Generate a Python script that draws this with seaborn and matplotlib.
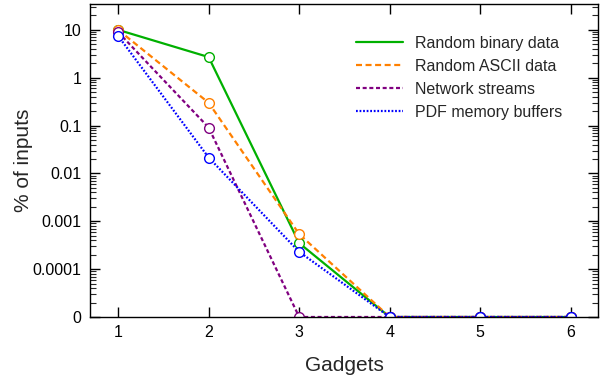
import numpy as np
import pandas as pd
import matplotlib
matplotlib.use("Agg")
import matplotlib.pyplot as plt
from matplotlib.lines import Line2D
from matplotlib.ticker import FixedLocator, FixedFormatter
import seaborn as sns

gadgets = [1, 2, 3, 4, 5, 6]
series_names = ["Random binary data", "Random ASCII data", "Network streams", "PDF memory buffers"]
random_binary = [10.0, 2.7, 0.00035, 0, 0, 0]
random_ascii = [10.0, 0.30, 0.00054, 0, 0, 0]
network_streams = [9.0, 0.091, 0, 0, 0, 0]
pdf_buffers = [7.5, 0.0215, 0.00023, 0, 0, 0]
y_tick_values = [0, 0.0001, 0.001, 0.01, 0.1, 1, 10]
y_tick_labels = ["0", "0.0001", "0.001", "0.01", "0.1", "1", "10"]

colors = ["#00b000", "#ff8000", "#800080", "#0000ff"]
styles = ["-", (0, (2.7, 1.6)), (0, (1.8, 1.2)), (0, (0.8, 0.8))]
values = [random_binary, random_ascii, network_streams, pdf_buffers]

sns.set_theme(style="ticks")
plt.rcParams['font.family'] = ['Liberation Sans', 'DejaVu Sans']

fig = plt.figure(figsize=(6.05, 3.75), dpi=100)
ax = fig.add_axes([90/605, 1-317/375, (598-90)/605, (317-4)/375])

FLOOR = 1e-5
ax.set_yscale("function", functions=(lambda y: np.log10(np.clip(y, FLOOR, None)),
                                       lambda y: 10.0**y))

for name, vals, c, ls in zip(series_names, values, colors, styles):
    df = pd.DataFrame({"Gadgets": gadgets, "pct": vals})
    sns.lineplot(data=df, x="Gadgets", y="pct", ax=ax, color=c, linestyle=ls,
                 linewidth=1.6, marker="o", markersize=7, markerfacecolor="white",
                 markeredgecolor=c, markeredgewidth=1.0, label=None, legend=False)

ax.set_xlim(0.69, 6.3)
ax.set_ylim(FLOOR, 10**1.54)
ax.yaxis.set_major_locator(FixedLocator(y_tick_values))
ax.yaxis.set_major_formatter(FixedFormatter(y_tick_labels))
minors = [k * 10.0**d for d in range(-5, 2) for k in range(2, 10)]
ax.yaxis.set_minor_locator(FixedLocator(minors))
ax.set_xticks(gadgets)

ax.tick_params(axis="both", which="major", direction="in", length=7, width=1,
               labelsize=11.5, top=True, right=True, colors="black", pad=6)
ax.tick_params(axis="y", which="minor", direction="in", length=4, width=0.8, right=True)
ax.tick_params(axis="x", which="minor", bottom=False, top=False)
for s in ax.spines.values():
    s.set_color("black")
    s.set_linewidth(1.0)

ax.set_xlabel("Gadgets", fontsize=15, labelpad=11)
ax.set_ylabel("% of inputs", fontsize=15, labelpad=0)

handles = [Line2D([0], [0], color=c, linestyle=ls, linewidth=1.6) for c, ls in zip(colors, styles)]
ax.legend(handles, series_names, loc="upper right", frameon=False, fontsize=11.5,
          handlelength=2.9, handletextpad=0.75, labelspacing=0.5,
          bbox_to_anchor=(0.957, 0.944))

fig.savefig("out.png", dpi=100)
